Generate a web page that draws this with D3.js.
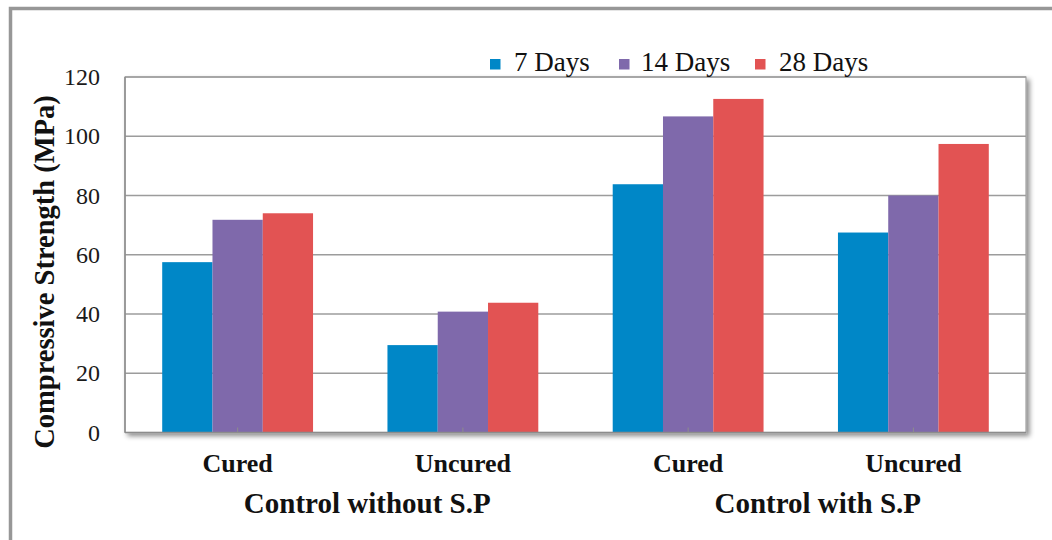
<!DOCTYPE html>
<html><head><meta charset="utf-8">
<script src="https://cdn.jsdelivr.net/npm/d3@7"></script>
<style>html,body{margin:0;padding:0;background:#fff;}svg{display:block;}</style>
</head><body>
<svg id="chart" width="1052" height="540"></svg>
<script>
const categories = ["Cured", "Uncured", "Cured", "Uncured"];
const groups = ["Control without S.P", "Control with S.P"];
const seriesNames = ["7 Days", "14 Days", "28 Days"];
const days7 = [57.5, 29.5, 83.8, 67.5];
const days14 = [71.8, 40.8, 106.7, 80.0];
const days28 = [74.0, 43.8, 112.6, 97.4];
const yTicks = [0, 20, 40, 60, 80, 100, 120];
const colors = ["#0087c7", "#7f69ab", "#e25353"];

const series = [days7, days14, days28];
const svg = d3.select("#chart");
const W = 1052, H = 540;
const m = {left: 125, right: 1026, top: 77, bottom: 432.5};
const FONT = "'Liberation Serif', 'Times New Roman', Times, serif";

// outer frame
svg.append("rect").attr("x", 0).attr("y", 0).attr("width", W).attr("height", H).attr("fill", "#fff");
svg.append("rect").attr("x", 10.5).attr("y", 8.5).attr("width", W + 20).attr("height", H + 20)
  .attr("fill", "none").attr("stroke", "#979797").attr("stroke-width", 3.5);

const defs = svg.append("defs");
const f = defs.append("filter").attr("id", "sh").attr("x", "-5%").attr("y", "-5%").attr("width", "115%").attr("height", "115%");
f.append("feDropShadow").attr("dx", 3).attr("dy", 3).attr("stdDeviation", 2.5).attr("flood-color", "#000").attr("flood-opacity", 0.45);

const idx = d3.range(categories.length);
const x = d3.scaleBand().domain(idx).range([m.left, m.right]).paddingInner(0).paddingOuter(0);
const x1 = d3.scaleBand().domain(d3.range(series.length)).range([0, x.bandwidth()]).paddingOuter(0.74).paddingInner(0);
const y = d3.scaleLinear().domain([0, 120]).range([m.bottom, m.top]);

// plot area
svg.append("rect").attr("x", m.left).attr("y", m.top).attr("width", m.right - m.left).attr("height", m.bottom - m.top)
  .attr("fill", "#fff").attr("stroke", "#a0a0a0").attr("stroke-width", 1.2).attr("filter", "url(#sh)");

// gridlines
svg.append("g").selectAll("line").data(yTicks.filter(d => d > 0)).join("line")
  .attr("x1", m.left).attr("x2", m.right).attr("y1", d => y(d)).attr("y2", d => y(d))
  .attr("stroke", "#9c9c9c").attr("stroke-width", 1.6);

// bars
const gBars = svg.append("g");
series.forEach((s, si) => {
  gBars.append("g").selectAll("rect").data(s).join("rect")
    .attr("x", (d, i) => x(i) + x1(si))
    .attr("width", x1.bandwidth())
    .attr("y", d => y(d))
    .attr("height", d => y(0) - y(d))
    .attr("fill", colors[si]);
});

// axes lines
svg.append("line").attr("x1", m.left).attr("x2", m.left).attr("y1", m.top).attr("y2", m.bottom).attr("stroke", "#8c8c8c").attr("stroke-width", 1.5);
svg.append("line").attr("x1", m.left).attr("x2", m.right).attr("y1", m.bottom).attr("y2", m.bottom).attr("stroke", "#8c8c8c").attr("stroke-width", 1.5);

// x inner ticks
const xAxis = d3.axisBottom(x).tickSize(-5).tickFormat("");
const gx = svg.append("g").attr("transform", `translate(0,${m.bottom})`).call(xAxis);
gx.select(".domain").remove();
gx.selectAll("line").attr("stroke", "#8c8c8c").attr("stroke-width", 1);

// y tick labels
const yAxis = d3.axisLeft(y).tickValues(yTicks).tickSize(0).tickPadding(25);
const gy = svg.append("g").attr("transform", `translate(${m.left},0)`).call(yAxis);
gy.select(".domain").remove();
gy.selectAll("text").attr("font-family", FONT).attr("font-size", 24).attr("fill", "#1a1a1a");

// category labels
svg.append("g").selectAll("text").data(categories).join("text")
  .attr("x", (d, i) => x(i) + x.bandwidth() / 2).attr("y", 472)
  .attr("text-anchor", "middle").attr("font-family", FONT).attr("font-weight", "bold")
  .attr("font-size", 26).attr("fill", "#111").text(d => d);

// group labels
svg.append("g").selectAll("text").data(groups).join("text")
  .attr("x", (d, i) => (x(i * 2) + x(i * 2 + 1) + x.bandwidth()) / 2 + 17).attr("y", 513)
  .attr("text-anchor", "middle").attr("font-family", FONT).attr("font-weight", "bold")
  .attr("font-size", 29).attr("fill", "#111").text(d => d);

// y title
svg.append("text").attr("transform", `translate(54,272) rotate(-90)`)
  .attr("text-anchor", "middle").attr("font-family", FONT).attr("font-weight", "bold")
  .attr("font-size", 28.5).attr("fill", "#111").text("Compressive Strength (MPa)");

// legend
const legX = [490, 619, 755];
const lg = svg.append("g");
seriesNames.forEach((n, i) => {
  lg.append("rect").attr("x", legX[i]).attr("y", 59).attr("width", 10.5).attr("height", 10.5).attr("fill", colors[i]);
  lg.append("text").attr("x", legX[i] + (i === 1 ? 22 : 24)).attr("y", 71)
    .attr("font-family", FONT).attr("font-size", 27).attr("fill", "#111").text(n);
});
</script>
</body></html>
